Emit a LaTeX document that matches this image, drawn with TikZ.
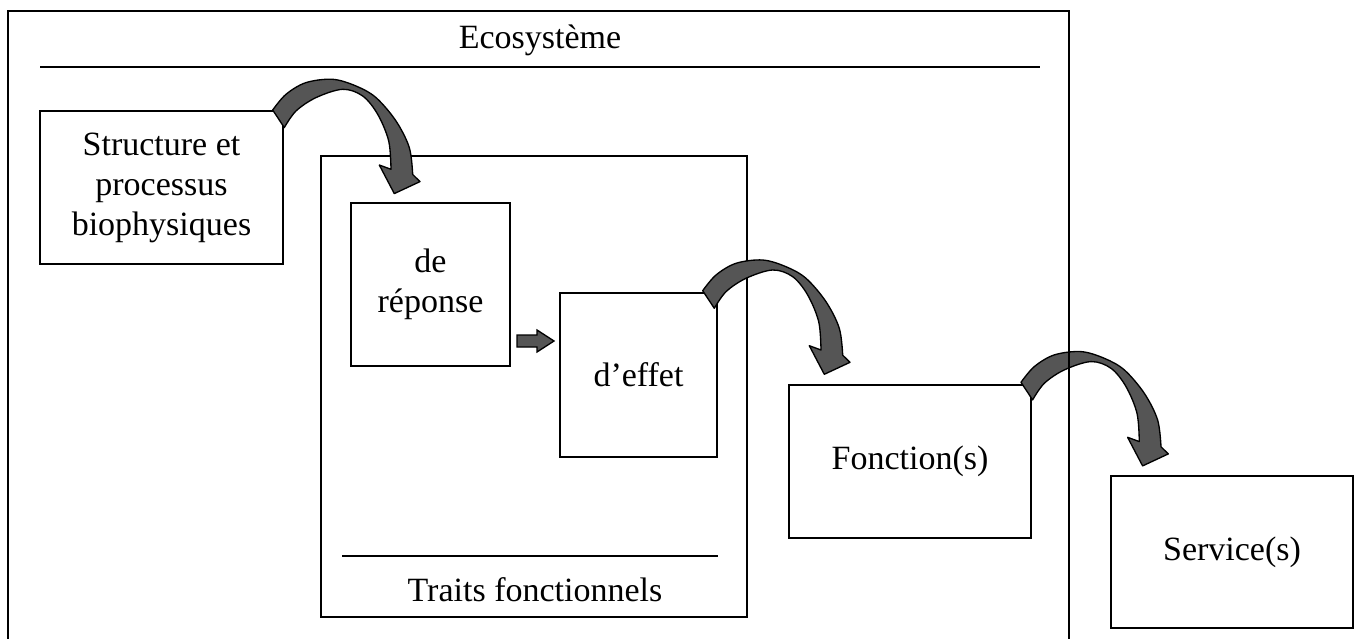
\documentclass[tikz,border=0pt]{standalone}
\usepackage{fontspec}
\setmainfont{Liberation Serif}
\definecolor{arrowgray}{RGB}{85,85,85}
\tikzset{
  box/.style={draw=black, line width=1.5pt, fill=white, minimum width=#1, align=center, inner sep=0pt},
  lbl/.style={font=\fontsize{25.5}{30}\selectfont, align=center, inner sep=0pt},
  curvarrow/.pic={
    \filldraw[fill=arrowgray, draw=black, line width=1pt, line join=round]
      plot[smooth, tension=0.55] coordinates {(0,0) (13.3,-15.7) (33.3,-27.4) (60,-30.7) (83.3,-24) (103.3,-12.4) (123.3,11) (136.6,37.6) (140,64.5)}
      -- (147.3,71.6) -- (121.6,83.6) -- (106.6,55) --
      plot[smooth, tension=0.55] coordinates {(118.3,59.3) (116,31) (105,4.3) (90,-14) (70,-20.7) (43.3,-12.4) (23.3,1) (11.6,17.6)}
      -- cycle;
  }
}
\begin{document}
\begin{tikzpicture}[x=0.75pt, y=-0.75pt]
\useasboundingbox (0,0) rectangle (1357,639);
% title
\node[lbl] (eco) at (540,40) {Ecosystème};
\draw[line width=2.2pt] (40,67) coordinate (tl) -- (1040,67) coordinate (tr);
% traits box
\draw[line width=1.5pt] (321,156) rectangle (747,617);
\coordinate (trl) at (342,556);
\coordinate (trr) at (718,556);
\draw[line width=1.2pt] (trl) -- (trr);
\node[lbl] (traits) at (535,590) {Traits fonctionnels};
% boxes
\node[box=243*0.75pt, minimum height=153*0.75pt, lbl] (s) at (161.5,187.5) {Structure et\\processus\\biophysiques};
\node[box=159*0.75pt, minimum height=163*0.75pt, lbl] (r) at (430.5,284.5) {de\\réponse};
\node[box=157*0.75pt, minimum height=164*0.75pt, lbl] (e) at (638.5,375) {d’effet};
\node[box=242*0.75pt, minimum height=153*0.75pt, lbl] (f) at (910,461.5) {Fonction(s)};
\node[box=242*0.75pt, minimum height=152*0.75pt, lbl] (sv) at (1232,552) {Service(s)};
% straight arrow from (r) towards (e)
\filldraw[fill=arrowgray, draw=black, line width=1pt, line join=miter]
  ([shift={(6,50.5)}]r.east) -- ++(20,0) -- ++(0,-5) -- ++(17,11) -- ++(-17,11) -- ++(0,-5) -- ++(-20,0) -- cycle;
% curved arrows
\pic at ([shift={(-11.3,0)}]s.north east) {curvarrow};
\pic at ([shift={(-15.3,-1.3)}]e.north east) {curvarrow};
\pic at ([shift={(-11,-1.7)}]f.north east) {curvarrow};
% outer ecosystem frame (open at bottom)
\draw[line width=2.2pt] (8,639) -- (8,11) -- (1069,11) -- (1069,639);
\end{tikzpicture}
\end{document}
